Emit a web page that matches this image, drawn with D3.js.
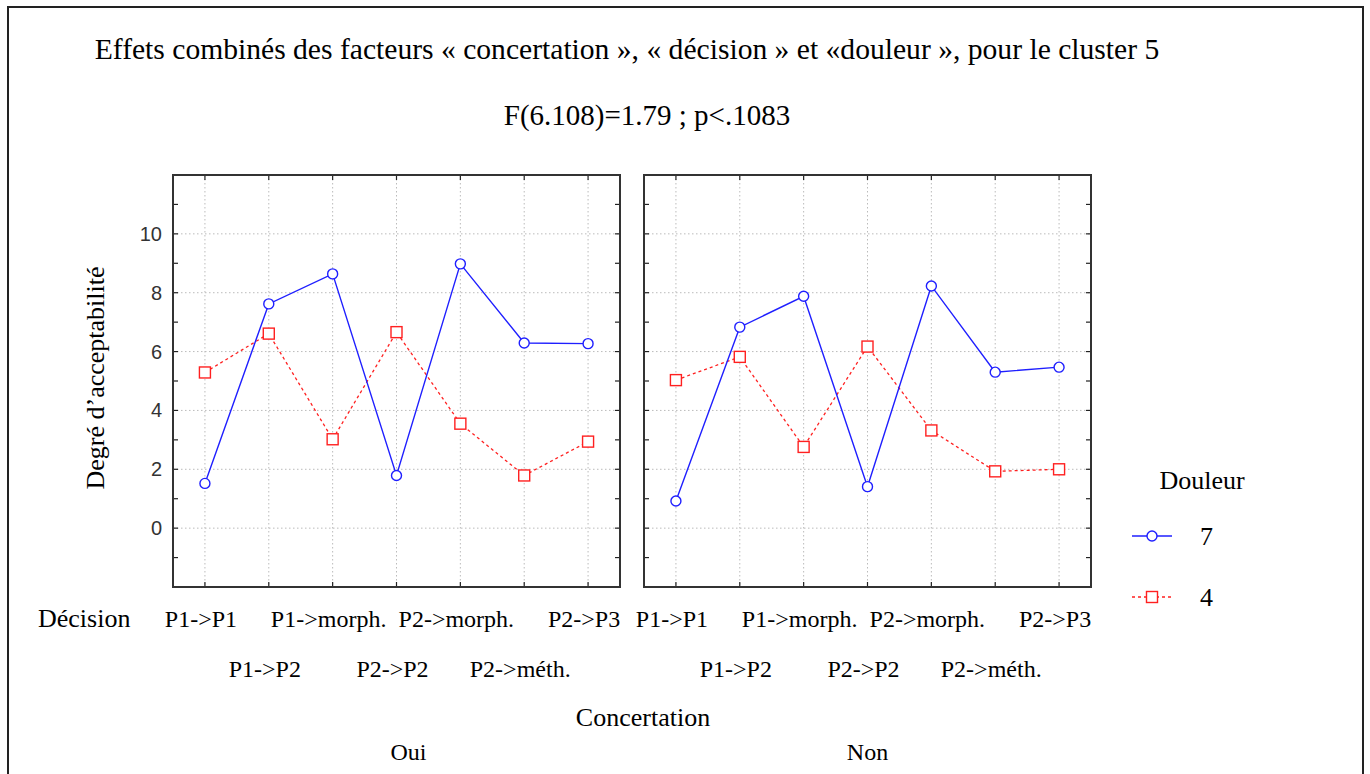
<!DOCTYPE html>
<html>
<head>
<meta charset="utf-8">
<script src="https://cdn.jsdelivr.net/npm/d3@7"></script>
<style>
  body { margin: 0; background: #fff; }
  svg text { font-family: "Liberation Serif", "Times New Roman", serif; fill: #000; }
  .ytick text { font-family: "Liberation Sans", Arial, sans-serif; fill: #333; }
</style>
</head>
<body>
<div id="chart"></div>
<script>
// donnees
const categories = ["P1->P1", "P1->P2", "P1->morph.", "P2->P2", "P2->morph.", "P2->méth.", "P2->P3"];
const groupes = ["Oui", "Non"];
const douleurs = ["7", "4"];
const oui7 = [1.52, 7.62, 8.64, 1.79, 8.98, 6.29, 6.27];
const oui4 = [5.29, 6.61, 3.02, 6.66, 3.55, 1.79, 2.94];
const non7 = [0.92, 6.83, 7.88, 1.41, 8.23, 5.30, 5.47];
const non4 = [5.03, 5.82, 2.76, 6.17, 3.32, 1.93, 2.00];
const yTicks = [0, 2, 4, 6, 8, 10];

const W = 1370, H = 774;
const svg = d3.select("#chart").append("svg").attr("width", W).attr("height", H);

// cadre exterieur
svg.append("rect").attr("x", 8).attr("y", 7).attr("width", 1355).attr("height", 800)
  .attr("fill", "none").attr("stroke", "#222").attr("stroke-width", 2);

// titres
svg.append("text").attr("x", 627).attr("y", 59).attr("text-anchor", "middle").style("font-size", "29.6px")
  .text("Effets combinés des facteurs « concertation », « décision » et «douleur », pour le cluster 5");
svg.append("text").attr("x", 647).attr("y", 125).attr("text-anchor", "middle").style("font-size", "29px")
  .text("F(6.108)=1.79 ; p<.1083");

const yTop = 175, yBottom = 587;
const panels = [
  { left: 173, right: 620, s7: oui7, s4: oui4, name: groupes[0], dx: 12 },
  { left: 644, right: 1091, s7: non7, s4: non4, name: groupes[1], dx: 0 }
];

const y = d3.scaleLinear().domain([-2, 12]).range([yBottom, yTop]);
const colors = { "7": "#1f1fff", "4": "#ff2020" };

panels.forEach((p, pi) => {
  const x = d3.scalePoint().domain(categories).range([p.left, p.right]).padding(0.5);
  const g = svg.append("g");

  // grille pointillee
  g.selectAll(".hgrid").data(yTicks).enter().append("line")
    .attr("x1", p.left).attr("x2", p.right).attr("y1", d => y(d)).attr("y2", d => y(d))
    .attr("stroke", "#bbb").attr("stroke-dasharray", "1.5,2.5");
  g.selectAll(".vgrid").data(categories).enter().append("line")
    .attr("x1", d => x(d)).attr("x2", d => x(d)).attr("y1", yTop).attr("y2", yBottom)
    .attr("stroke", "#bbb").attr("stroke-dasharray", "1.5,2.5");

  // petits traits sur les bords
  const allTicks = d3.range(-1, 12, 1);
  [p.left, p.right].forEach((ex, side) => {
    g.selectAll(null).data(allTicks).enter().append("line")
      .attr("x1", ex).attr("x2", side === 0 ? ex + 5 : ex - 5)
      .attr("y1", d => y(d)).attr("y2", d => y(d))
      .attr("stroke", "#222").attr("stroke-width", 1.2);
  });
  [yTop, yBottom].forEach((ey, side) => {
    g.selectAll(null).data(categories).enter().append("line")
      .attr("x1", d => x(d)).attr("x2", d => x(d))
      .attr("y1", ey).attr("y2", side === 0 ? ey + 5 : ey - 5)
      .attr("stroke", "#222").attr("stroke-width", 1.2);
  });

  // axe y uniquement pour le premier panneau
  if (pi === 0) {
    const ya = g.append("g").attr("class", "ytick");
    ya.selectAll("text").data(yTicks).enter().append("text")
      .attr("x", p.left - 11).attr("y", d => y(d)).attr("dy", "0.35em")
      .attr("text-anchor", "end").style("font-size", "20px").text(d => d);
  }

  // cadre du panneau
  g.append("rect").attr("x", p.left).attr("y", yTop).attr("width", p.right - p.left).attr("height", yBottom - yTop)
    .attr("fill", "none").attr("stroke", "#333").attr("stroke-width", 2);

  // series
  const line = d3.line().x((d, i) => x(categories[i])).y(d => y(d));
  g.append("path").datum(p.s4).attr("d", line).attr("fill", "none")
    .attr("stroke", colors["4"]).attr("stroke-width", 1.3).attr("stroke-dasharray", "3,3");
  g.append("path").datum(p.s7).attr("d", line).attr("fill", "none")
    .attr("stroke", colors["7"]).attr("stroke-width", 1.4);

  g.selectAll(".sq").data(p.s4).enter().append("rect")
    .attr("x", (d, i) => x(categories[i]) - 5.5).attr("y", d => y(d) - 5.5)
    .attr("width", 11).attr("height", 11)
    .attr("fill", "#fff").attr("stroke", colors["4"]).attr("stroke-width", 1.4);
  g.selectAll(".ci").data(p.s7).enter().append("circle")
    .attr("cx", (d, i) => x(categories[i])).attr("cy", d => y(d)).attr("r", 5)
    .attr("fill", "#fff").attr("stroke", colors["7"]).attr("stroke-width", 1.4);

  // etiquettes de categories sur deux rangs
  g.selectAll(".cat").data(categories).enter().append("text")
    .attr("x", d => x(d) - 4).attr("y", (d, i) => i % 2 === 0 ? 627 : 677)
    .attr("text-anchor", "middle").style("font-size", "24px").text(d => d);

  g.append("text").attr("x", (p.left + p.right) / 2 + p.dx).attr("y", 760)
    .attr("text-anchor", "middle").style("font-size", "24px").text(p.name);
});

// titres des axes
svg.append("text").attr("transform", "translate(104,378) rotate(-90)")
  .attr("text-anchor", "middle").style("font-size", "26px").text("Degré d’acceptabilité");
svg.append("text").attr("x", 38).attr("y", 627).style("font-size", "26px").text("Décision");
svg.append("text").attr("x", 643).attr("y", 726).attr("text-anchor", "middle").style("font-size", "26px").text("Concertation");

// legende
svg.append("text").attr("x", 1202).attr("y", 489).attr("text-anchor", "middle").style("font-size", "26px").text("Douleur");
const leg = svg.append("g");
douleurs.forEach((d, i) => {
  const ly = 536 + i * 61;
  leg.append("line").attr("x1", 1132).attr("x2", 1172).attr("y1", ly).attr("y2", ly)
    .attr("stroke", colors[d]).attr("stroke-width", 1.4)
    .attr("stroke-dasharray", d === "4" ? "3,3" : null);
  if (d === "7") {
    leg.append("circle").attr("cx", 1152).attr("cy", ly).attr("r", 5)
      .attr("fill", "#fff").attr("stroke", colors[d]).attr("stroke-width", 1.4);
  } else {
    leg.append("rect").attr("x", 1146.5).attr("y", ly - 5.5).attr("width", 11).attr("height", 11)
      .attr("fill", "#fff").attr("stroke", colors[d]).attr("stroke-width", 1.4);
  }
  leg.append("text").attr("x", 1200).attr("y", ly + 9).style("font-size", "26px").text(d);
});
</script>
</body>
</html>
